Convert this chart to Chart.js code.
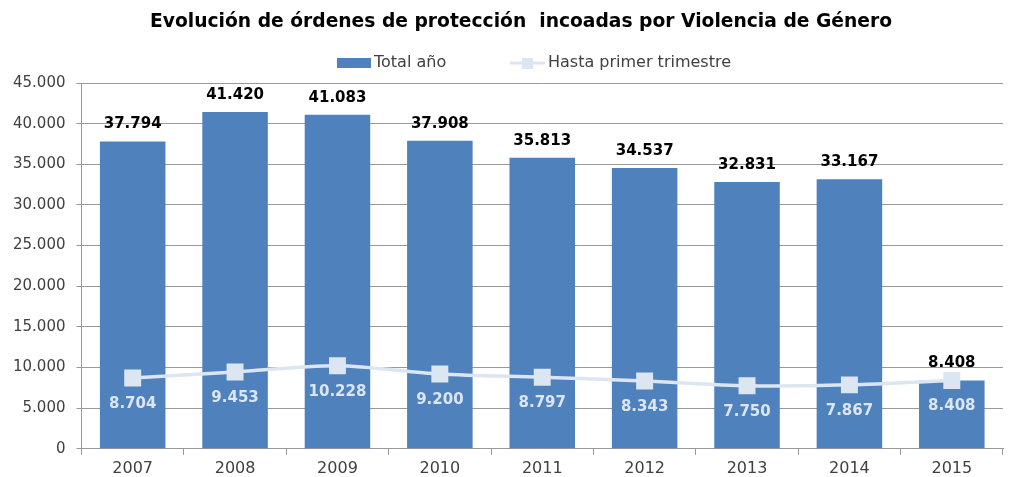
<!DOCTYPE html>
<html>
<head>
<meta charset="utf-8">
<script src="https://cdn.jsdelivr.net/npm/chart.js@4/dist/chart.umd.min.js"></script>
<style>
  html, body { margin: 0; padding: 0; background: #fff; }
  #wrap { width: 1009px; height: 477px; position: relative; }
</style>
</head>
<body>
<div id="wrap"><canvas id="chart"></canvas></div>
<script>
const years = ['2007', '2008', '2009', '2010', '2011', '2012', '2013', '2014', '2015'];
const totalYear = [37794, 41420, 41083, 37908, 35813, 34537, 32831, 33167, 8408];
const firstQuarter = [8704, 9453, 10228, 9200, 8797, 8343, 7750, 7867, 8408];
const yTicks = [0, 5000, 10000, 15000, 20000, 25000, 30000, 35000, 40000, 45000];

const TITLE = 'Evolución de órdenes de protección  incoadas por Violencia de Género';
const FONT = "'DejaVu Sans', sans-serif";
const BAR_COLOR = '#4F81BD';
const LINE_COLOR = '#DCE6F2';
const GRID_COLOR = '#999999';

function fmt(v) {
  return String(v).replace(/\B(?=(\d{3})+(?!\d))/g, '.');
}

// title, value labels and legend, drawn by hand
const labelsPlugin = {
  id: 'labels',
  afterDatasetsDraw(chart) {
    const ctx = chart.ctx;
    ctx.save();
    ctx.font = 'bold 15px ' + FONT;
    ctx.textAlign = 'center';
    ctx.textBaseline = 'middle';
    chart.getDatasetMeta(0).data.forEach((bar, i) => {
      ctx.fillStyle = '#000';
      ctx.fillText(fmt(totalYear[i]), bar.x, bar.y - 17);
    });
    chart.getDatasetMeta(1).data.forEach((pt, i) => {
      ctx.fillStyle = LINE_COLOR;
      ctx.fillText(fmt(firstQuarter[i]), pt.x, pt.y + 26);
    });
    ctx.restore();
  },
  afterDraw(chart) {
    const ctx = chart.ctx;
    ctx.save();
    ctx.textBaseline = 'middle';
    ctx.textAlign = 'center';
    ctx.fillStyle = '#000';
    ctx.font = 'bold 18.7px ' + FONT;
    ctx.fillText(TITLE, 521, 22);

    ctx.textAlign = 'left';
    ctx.font = '16px ' + FONT;
    ctx.fillStyle = BAR_COLOR;
    ctx.fillRect(337, 58, 34, 10);
    ctx.fillStyle = '#404040';
    ctx.fillText('Total año', 374, 63);
    ctx.strokeStyle = LINE_COLOR;
    ctx.lineWidth = 3;
    ctx.beginPath();
    ctx.moveTo(510, 63);
    ctx.lineTo(545, 63);
    ctx.stroke();
    ctx.fillStyle = LINE_COLOR;
    ctx.fillRect(522, 58, 11, 11);
    ctx.fillStyle = '#404040';
    ctx.fillText('Hasta primer trimestre', 548, 63);
    ctx.restore();
  }
};

const chart = new Chart(document.getElementById('chart'), {
  type: 'bar',
  data: {
    labels: years,
    datasets: [{
      type: 'bar',
      label: 'Total año',
      data: totalYear,
      backgroundColor: BAR_COLOR,
      barPercentage: 0.64,
      categoryPercentage: 1,
      order: 2
    }, {
      type: 'line',
      label: 'Hasta primer trimestre',
      data: firstQuarter,
      borderColor: LINE_COLOR,
      backgroundColor: LINE_COLOR,
      borderWidth: 3.5,
      tension: 0.3,
      pointStyle: 'rect',
      pointRadius: 9.5,
      pointHoverRadius: 9.5,
      clip: false,
      order: 1
    }]
  },
  options: {
    responsive: true,
    maintainAspectRatio: false,
    animation: false,
    layout: { padding: { top: 83, left: 2, right: 6, bottom: -5 } },
    plugins: {
      legend: { display: false },
      tooltip: { enabled: false },
      title: { display: false }
    },
    scales: {
      x: {
        grid: { display: true, drawOnChartArea: false, tickLength: 6, color: GRID_COLOR },
        border: { color: GRID_COLOR },
        ticks: { color: '#404040', font: { family: FONT, size: 16 }, padding: 4 }
      },
      y: {
        min: 0,
        max: 45000,
        afterBuildTicks(axis) { axis.ticks = yTicks.map(v => ({ value: v })); },
        grid: { color: GRID_COLOR, tickLength: 5 },
        border: { color: GRID_COLOR },
        ticks: {
          color: '#404040',
          font: { family: FONT, size: 15 },
          padding: 11,
          callback: v => fmt(v)
        }
      }
    }
  },
  plugins: [labelsPlugin]
});

// the point markers should not push the plot area in from the edges
chart.getDatasetMeta(1).controller.getMaxOverflow = () => 0;
chart.update();
</script>
</body>
</html>
